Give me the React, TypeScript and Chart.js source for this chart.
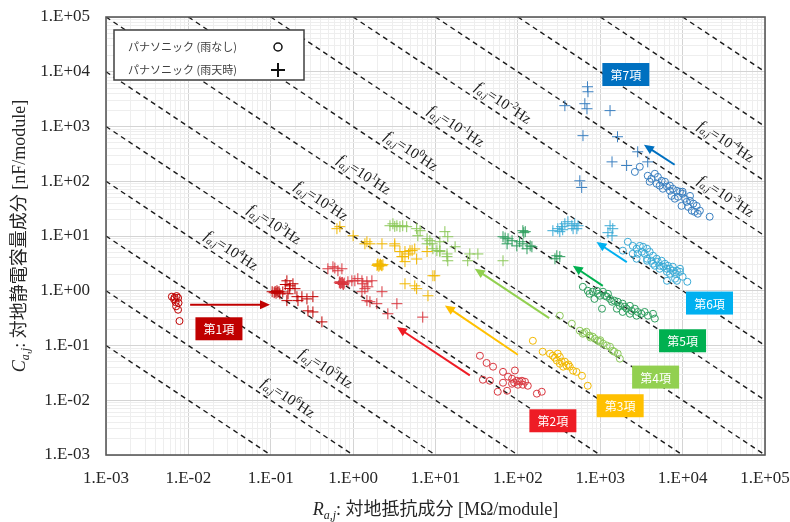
import React, { useEffect, useRef } from 'react';
import { Chart, registerables } from 'chart.js';

Chart.register(...registerables);

type Pt = [number, number];

// R [MΩ/module], C [nF/module] for each term, dry (雨なし) and wet (雨天時)
const term1Dry: Pt[] = [[0.0063, 0.78], [0.0072, 0.8], [0.0067, 0.7], [0.0075, 0.74], [0.0076, 0.6], [0.0071, 0.52], [0.0075, 0.45], [0.0078, 0.28], [0.007, 0.62], [0.0068, 0.75]];
const term1Wet: Pt[] = [[0.104, 0.96], [0.119, 1.0], [0.129, 0.88], [0.157, 1.52], [0.171, 1.23], [0.186, 1.34], [0.197, 1.09], [0.162, 0.88], [0.208, 0.78], [0.239, 0.78], [0.275, 0.71], [0.325, 0.78], [0.157, 0.66], [0.214, 0.66], [0.283, 0.43], [0.325, 0.41], [0.418, 0.27], [0.11, 0.92], [0.14, 0.95], [0.17, 1.1], [0.15, 1.3], [0.113, 0.97], [0.122, 0.94], [0.116, 0.9], [0.126, 0.96]];

const term2Dry: Pt[] = [[34.6, 0.065], [41.7, 0.048], [50, 0.041], [66, 0.033], [92, 0.035], [76, 0.027], [85, 0.0247], [97, 0.0227], [112, 0.0227], [122, 0.0218], [37.6, 0.0237], [45.7, 0.0227], [66, 0.0209], [85, 0.02], [100, 0.0192], [115, 0.0192], [132, 0.0184], [57, 0.0143], [74, 0.0149], [170, 0.0132], [195, 0.0143], [90, 0.021], [105, 0.022]];
const term2Wet: Pt[] = [[0.494, 2.52], [0.569, 2.74], [0.654, 2.32], [0.731, 2.52], [0.692, 1.46], [0.752, 1.34], [0.865, 1.46], [0.966, 1.52], [1.05, 1.52], [1.14, 1.66], [1.28, 1.52], [1.31, 1.34], [1.47, 1.46], [1.69, 1.52], [1.51, 1.18], [1.39, 1.09], [1.28, 0.96], [1.47, 0.66], [1.6, 0.63], [1.94, 0.58], [2.24, 0.96], [3.4, 0.58], [2.64, 0.38], [7.0, 0.33], [0.72, 1.4], [0.78, 1.38], [0.6, 2.6], [0.70, 1.36], [0.74, 1.42], [0.68, 1.40], [0.76, 1.30]];

const term3Dry: Pt[] = [[152, 0.122], [200, 0.077], [245, 0.071], [265, 0.065], [305, 0.071], [323, 0.062], [297, 0.053], [340, 0.0505], [372, 0.0505], [390, 0.0427], [427, 0.041], [468, 0.0347], [515, 0.033], [600, 0.028], [355, 0.041], [323, 0.0465], [705, 0.0184], [280, 0.06], [410, 0.045]];
const term3Wet: Pt[] = [[0.636, 13.6], [0.69, 14.8], [1.0, 10.1], [1.39, 7.2], [1.47, 7.85], [1.6, 7.2], [2.24, 7.2], [3.2, 7.2], [3.2, 6.6], [3.7, 5.2], [4.26, 5.2], [4.9, 5.4], [5.6, 5.8], [3.9, 4.2], [4.0, 4.2], [4.26, 3.4], [5.9, 3.8], [7.9, 5.2], [2.0, 3.1], [2.1, 2.95], [2.24, 2.86], [1.95, 2.9], [2.3, 3.0], [9.3, 1.88], [9.8, 1.88], [4.26, 1.34], [5.6, 1.23], [5.9, 1.09], [8.1, 0.81], [4.7, 4.7], [5.2, 5.4], [2.05, 2.8], [2.15, 3.05], [2.2, 2.92], [1.98, 3.0]];

const term4Dry: Pt[] = [[323, 0.35], [452, 0.25], [565, 0.186], [615, 0.164], [680, 0.178], [740, 0.151], [810, 0.145], [860, 0.133], [935, 0.122], [990, 0.117], [1080, 0.108], [1200, 0.1], [1315, 0.095], [1420, 0.08], [1480, 0.077], [1630, 0.071], [1730, 0.0575], [640, 0.17], [760, 0.14], [1000, 0.125]];
const term4Wet: Pt[] = [[2.8, 15.4], [3.04, 16.7], [3.4, 15.4], [3.7, 14.8], [4.0, 15.4], [4.47, 14.8], [3.2, 15.0], [5.9, 13.6], [6.5, 12.5], [6.1, 10.1], [7.9, 8.9], [8.55, 8.2], [9.1, 7.2], [11.3, 7.85], [13.0, 12.0], [14.1, 9.7], [10.4, 5.4], [11.3, 5.2], [13.8, 4.2], [14.1, 3.53], [26.1, 4.7], [32.7, 4.7], [24.6, 3.53], [66, 3.53], [7.9, 7.2], [9.3, 5.85], [11.3, 5.4], [13.8, 4.7], [17.3, 6.36]];

const term5Dry: Pt[] = [[615, 1.18], [705, 1.0], [740, 0.88], [810, 0.96], [910, 1.0], [935, 0.88], [990, 0.81], [1080, 0.96], [1140, 0.81], [1200, 0.78], [1240, 0.88], [1315, 0.71], [1390, 0.63], [1480, 0.66], [1630, 0.63], [1730, 0.53], [1870, 0.58], [1980, 0.51], [2090, 0.47], [2290, 0.53], [2400, 0.43], [2630, 0.47], [2850, 0.41], [3160, 0.38], [3460, 0.41], [3790, 0.35], [4370, 0.38], [4600, 0.31], [1050, 0.47], [850, 0.71], [1590, 0.47], [1870, 0.41], [2290, 0.38], [2760, 0.35]];
const term5Wet: Pt[] = [[66, 9.7], [76, 8.9], [74, 7.2], [85, 8.2], [115, 12.5], [123, 12.0], [105, 7.85], [115, 7.2], [97, 6.6], [141, 6.6], [148, 6.36], [129, 5.85], [297, 4.36], [323, 4.2], [282, 3.84], [70, 9.2], [118, 11.5]];

const term6Dry: Pt[] = [[1880, 5.4], [2160, 7.85], [2480, 6.6], [2760, 5.85], [3020, 6.6], [3310, 6.36], [3700, 5.85], [3200, 5.15], [2850, 4.74], [3460, 4.74], [3980, 5.15], [4370, 4.36], [4840, 3.84], [4170, 3.53], [5010, 3.39], [5560, 3.53], [6100, 3.11], [6610, 2.86], [5820, 2.75], [7040, 2.52], [7600, 2.75], [8530, 2.32], [9300, 2.52], [7040, 2.04], [8100, 2.04], [6450, 2.22], [5260, 2.52], [4600, 2.86], [3700, 3.84], [2480, 4.74], [2760, 3.84], [3700, 3.53], [4370, 3.11], [5260, 2.86], [6450, 2.52], [7600, 2.32], [9300, 2.22], [10000, 1.8], [8100, 1.66], [6450, 1.52], [8530, 1.52], [11400, 1.46]];
const term6Wet: Pt[] = [[266, 12.5], [305, 13.6], [340, 14.8], [372, 16.7], [405, 18.2], [452, 15.4], [490, 16.7], [537, 15.4], [520, 13.6], [323, 12.0], [468, 13.6], [1315, 15.4], [1420, 13.6], [1390, 10.1], [1240, 11.5], [350, 13.0]];

const term7Dry: Pt[] = [[2630, 148], [3020, 184], [3770, 126], [4170, 111], [4600, 137], [5010, 120], [5560, 102], [3980, 98], [4840, 90], [5260, 83], [6100, 98], [6450, 80], [7000, 83], [7600, 73], [8530, 67], [9300, 64.5], [10000, 59], [7330, 54], [8040, 48], [8800, 52], [10700, 48], [11200, 42], [12300, 44], [13500, 39], [14800, 35.5], [11700, 34], [12900, 29], [14000, 27.6], [15300, 25.5], [16200, 29], [9700, 35.5], [7000, 67], [5750, 73], [10000, 64.5], [12300, 54], [21300, 22.5]];
const term7Wet: Pt[] = [[700, 5320], [710, 4310], [650, 2610], [690, 2110], [372, 2400], [1315, 1950], [617, 680], [1620, 650], [2850, 345], [1390, 226], [2090, 194], [3770, 226], [565, 102], [595, 77]];

const dryData = [term1Dry, term2Dry, term3Dry, term4Dry, term5Dry, term6Dry, term7Dry];
const wetData = [term1Wet, term2Wet, term3Wet, term4Wet, term5Wet, term6Wet, term7Wet];

const termNames = ['第1項', '第2項', '第3項', '第4項', '第5項', '第6項', '第7項'];
const markColors = ['#C00000', '#D9363E', '#F2B800', '#8CC85A', '#2E9E5E', '#3AAAD6', '#3A7FC0'];
const boxColors = ['#C00000', '#EE1C25', '#FFC000', '#92D050', '#00B050', '#00B0F0', '#0070C0'];

// shift from dry to wet, per term: [R, C] start and end
const arrowFrom: Pt[] = [[0.0105, 0.555], [26.1, 0.0284], [100, 0.0678], [240, 0.317], [1075, 1.23], [2100, 3.34], [8000, 200]];
const arrowTo: Pt[] = [[0.098, 0.555], [3.4, 0.217], [13.0, 0.54], [30, 2.52], [465, 2.86], [900, 7.75], [3390, 464]];
// anchor of each term label box
const termLabelAt: Pt[] = [[0.0235, 0.202], [266, 0.00422], [1745, 0.00794], [4700, 0.0265], [9980, 0.122], [21200, 0.596], [2045, 8900]];

// constant R·C lines (exponent of R·C in MΩ·nF)
const rcExponents = [-4, -3, -2, -1, 0, 1, 2, 3, 4, 5, 6, 7, 8, 9];
// frequency labels: exponent shown, and R where the label sits on its line
const freqExponents = [6, 5, 4, 3, 2, 1, 0, -1, -2, -3, -4];
const freqLabelR = [0.136, 0.395, 0.0278, 0.0925, 0.344, 1.14, 4.25, 14.9, 55.6, 28200, 28200];

const xTickLabels = ['1.E-03', '1.E-02', '1.E-01', '1.E+00', '1.E+01', '1.E+02', '1.E+03', '1.E+04', '1.E+05'];
const yTickLabels = ['1.E-03', '1.E-02', '1.E-01', '1.E+00', '1.E+01', '1.E+02', '1.E+03', '1.E+04', '1.E+05'];
const legendLabels = ['パナソニック (雨なし)', 'パナソニック (雨天時)'];

const MIN_EXP = -3;
const MAX_EXP = 5;
const SERIF = '"Liberation Serif", "Noto Sans CJK JP"';

const isDecade = (v: number) => Math.abs(Math.log10(v) - Math.round(Math.log10(v))) < 1e-6;

function logTicks() {
  const out: { value: number }[] = [];
  for (let e = MIN_EXP; e <= MAX_EXP; e++) {
    for (let m = 1; m <= 9; m++) {
      if (e === MAX_EXP && m > 1) break;
      out.push({ value: Number((m * Math.pow(10, e)).toPrecision(6)) });
    }
  }
  return out;
}

type Part = { t: string; font: string; dy?: number };

function drawRich(ctx: CanvasRenderingContext2D, parts: Part[], x: number, y: number) {
  let w = 0;
  for (const p of parts) {
    ctx.font = p.font;
    w += ctx.measureText(p.t).width;
  }
  let cx = x - w / 2;
  ctx.textAlign = 'left';
  ctx.textBaseline = 'alphabetic';
  for (const p of parts) {
    ctx.font = p.font;
    ctx.fillText(p.t, cx, y + (p.dy || 0));
    cx += ctx.measureText(p.t).width;
  }
}

function drawArrow(ctx: CanvasRenderingContext2D, x1: number, y1: number, x2: number, y2: number, color: string) {
  const a = Math.atan2(y2 - y1, x2 - x1);
  const head = 10;
  const hw = 4.5;
  const c = Math.cos(a);
  const s = Math.sin(a);
  ctx.strokeStyle = color;
  ctx.fillStyle = color;
  ctx.lineWidth = 2;
  ctx.beginPath();
  ctx.moveTo(x1, y1);
  ctx.lineTo(x2 - head * 0.8 * c, y2 - head * 0.8 * s);
  ctx.stroke();
  ctx.beginPath();
  ctx.moveTo(x2, y2);
  ctx.lineTo(x2 - head * c + hw * s, y2 - head * s - hw * c);
  ctx.lineTo(x2 - head * c - hw * s, y2 - head * s + hw * c);
  ctx.closePath();
  ctx.fill();
}

const decorations = {
  id: 'decorations',
  afterDatasetsDraw(chart: any) {
    const ctx: CanvasRenderingContext2D = chart.ctx;
    const xs = chart.scales.x;
    const ys = chart.scales.y;
    const area = chart.chartArea;
    const px = (r: number) => xs.getPixelForValue(r);
    const py = (c: number) => ys.getPixelForValue(c);

    ctx.save();
    ctx.beginPath();
    ctx.rect(area.left, area.top, area.right - area.left, area.bottom - area.top);
    ctx.clip();

    // frequency labels along the constant R·C lines
    const ang = Math.atan2(py(0.1) - py(1), px(10) - px(1));
    freqExponents.forEach((k, i) => {
      const rc = Math.pow(10, 3 - k);
      const r = freqLabelR[i];
      const x = px(r);
      const y = py(rc / r);
      ctx.save();
      ctx.translate(x, y);
      ctx.rotate(ang);
      ctx.fillStyle = '#1a1a1a';
      drawRich(ctx, [
        { t: 'f', font: 'italic 15px "Liberation Serif"' },
        { t: 'a,j', font: 'italic 10px "Liberation Serif"', dy: 3 },
        { t: '=10', font: '15px "Liberation Serif"' },
        { t: String(k), font: '10px "Liberation Serif"', dy: -6 },
        { t: 'Hz', font: '15px "Liberation Serif"' },
      ], 0, -7);
      ctx.restore();
    });

    // arrows
    arrowFrom.forEach((f, i) => {
      const t = arrowTo[i];
      drawArrow(ctx, px(f[0]), py(f[1]), px(t[0]), py(t[1]), boxColors[i]);
    });

    // term label boxes
    termLabelAt.forEach((p, i) => {
      const cx = px(p[0]);
      const cy = py(p[1]);
      const w = 47;
      const h = 23;
      ctx.fillStyle = boxColors[i];
      ctx.fillRect(cx - w / 2, cy - h / 2, w, h);
      ctx.fillStyle = '#ffffff';
      ctx.font = '12px "Noto Sans CJK JP"';
      ctx.textAlign = 'center';
      ctx.textBaseline = 'middle';
      ctx.fillText(termNames[i], cx, cy + 1);
    });
    ctx.restore();

    // legend
    ctx.save();
    const lx = 114, ly = 30, lw = 190, lh = 50;
    ctx.fillStyle = '#ffffff';
    ctx.fillRect(lx, ly, lw, lh);
    ctx.strokeStyle = '#404040';
    ctx.lineWidth = 1.5;
    ctx.strokeRect(lx, ly, lw, lh);
    ctx.fillStyle = '#404040';
    ctx.font = '11px "Noto Sans CJK JP"';
    ctx.textAlign = 'left';
    ctx.textBaseline = 'middle';
    ctx.fillText(legendLabels[0], 128, 47);
    ctx.fillText(legendLabels[1], 128, 70);
    ctx.strokeStyle = '#111';
    ctx.lineWidth = 1.5;
    ctx.beginPath();
    ctx.arc(278, 47, 4, 0, Math.PI * 2);
    ctx.stroke();
    ctx.beginPath();
    ctx.moveTo(271, 70);
    ctx.lineTo(285, 70);
    ctx.moveTo(278, 63);
    ctx.lineTo(278, 77);
    ctx.lineWidth = 2;
    ctx.stroke();
    ctx.restore();

    // plot frame
    ctx.save();
    ctx.strokeStyle = '#595959';
    ctx.lineWidth = 1.6;
    ctx.strokeRect(area.left, area.top, area.right - area.left, area.bottom - area.top);
    ctx.restore();
  },
  afterDraw(chart: any) {
    const ctx: CanvasRenderingContext2D = chart.ctx;
    const area = chart.chartArea;
    ctx.save();
    ctx.fillStyle = '#262626';
    drawRich(ctx, [
      { t: 'R', font: `italic 18px ${SERIF}` },
      { t: 'a,j', font: `italic 12px ${SERIF}`, dy: 4 },
      { t: ': 対地抵抗成分 [MΩ/module]', font: `18px ${SERIF}` },
    ], (area.left + area.right) / 2, 515);
    ctx.translate(25, (area.top + area.bottom) / 2);
    ctx.rotate(-Math.PI / 2);
    drawRich(ctx, [
      { t: 'C', font: `italic 18px ${SERIF}` },
      { t: 'a,j', font: `italic 12px ${SERIF}`, dy: 4 },
      { t: ': 対地静電容量成分 [nF/module]', font: `18px ${SERIF}` },
    ], 0, 0);
    ctx.restore();
  },
};

// pins the plot area to the layout padding, ignoring tick-label overhang
const noOverhang = (s: any) => {
  s.paddingLeft = 0;
  s.paddingRight = 0;
  s.paddingTop = 0;
  s.paddingBottom = 0;
};

export default function App() {
  const ref = useRef<HTMLCanvasElement>(null);

  useEffect(() => {
    if (!ref.current) return;
    const datasets: any[] = [];

    rcExponents.forEach((e) => {
      const rc = Math.pow(10, e);
      const r0 = Math.max(Math.pow(10, MIN_EXP), rc / Math.pow(10, MAX_EXP));
      const r1 = Math.min(Math.pow(10, MAX_EXP), rc / Math.pow(10, MIN_EXP));
      datasets.push({
        type: 'line',
        data: [{ x: r0, y: rc / r0 }, { x: r1, y: rc / r1 }],
        borderColor: '#1a1a1a',
        borderWidth: 1.4,
        borderDash: [5, 4],
        pointRadius: 0,
        fill: false,
        order: 3,
      });
    });

    dryData.forEach((pts, i) => {
      datasets.push({
        type: 'scatter',
        label: termNames[i] + ' 雨なし',
        data: pts.map(([x, y]) => ({ x, y })),
        pointStyle: 'circle',
        pointRadius: 3.5,
        borderColor: markColors[i],
        backgroundColor: 'rgba(255,255,255,0)',
        borderWidth: 1,
        order: 1,
      });
    });
    wetData.forEach((pts, i) => {
      datasets.push({
        type: 'scatter',
        label: termNames[i] + ' 雨天時',
        data: pts.map(([x, y]) => ({ x, y })),
        pointStyle: 'cross',
        pointRadius: 5.5,
        borderColor: markColors[i],
        backgroundColor: markColors[i],
        borderWidth: 1,
        order: 2,
      });
    });

    const gridColor = (ctx: any) =>
      ctx.tick && isDecade(ctx.tick.value) ? '#D4D4D4' : '#EEEEEE';

    const chart = new Chart(ref.current, {
      type: 'scatter',
      data: { datasets },
      plugins: [decorations],
      options: {
        animation: false,
        responsive: true,
        maintainAspectRatio: false,
        events: [],
        layout: { padding: { top: 17, right: 25, left: 0, bottom: 0 } },
        plugins: { legend: { display: false }, tooltip: { enabled: false } },
        scales: {
          x: {
            type: 'logarithmic',
            position: 'bottom',
            min: 1e-3,
            max: 1e5,
            afterBuildTicks: (s: any) => { s.ticks = logTicks(); },
            afterFit: (s: any) => { s.height = 67; noOverhang(s); },
            grid: { color: gridColor, lineWidth: 1, drawTicks: false },
            border: { display: false },
            ticks: {
              autoSkip: false,
              maxRotation: 0,
              padding: 13,
              color: '#262626',
              font: { family: '"Liberation Serif"', size: 17 },
              callback: (v: any) => (isDecade(Number(v)) ? xTickLabels[Math.round(Math.log10(Number(v))) - MIN_EXP] : ''),
            },
          },
          y: {
            type: 'logarithmic',
            position: 'left',
            min: 1e-3,
            max: 1e5,
            afterBuildTicks: (s: any) => { s.ticks = logTicks(); },
            afterFit: (s: any) => { s.width = 106; noOverhang(s); },
            grid: { color: gridColor, lineWidth: 1, drawTicks: false },
            border: { display: false },
            ticks: {
              autoSkip: false,
              padding: 16,
              color: '#262626',
              font: { family: '"Liberation Serif"', size: 17 },
              callback: (v: any) => (isDecade(Number(v)) ? yTickLabels[Math.round(Math.log10(Number(v))) - MIN_EXP] : ''),
            },
          },
        },
      } as any,
    });
    return () => chart.destroy();
  }, []);

  return (
    <div style={{ position: 'absolute', left: 0, top: 0, width: 790, height: 522, background: '#ffffff' }}>
      <canvas ref={ref} />
    </div>
  );
}
